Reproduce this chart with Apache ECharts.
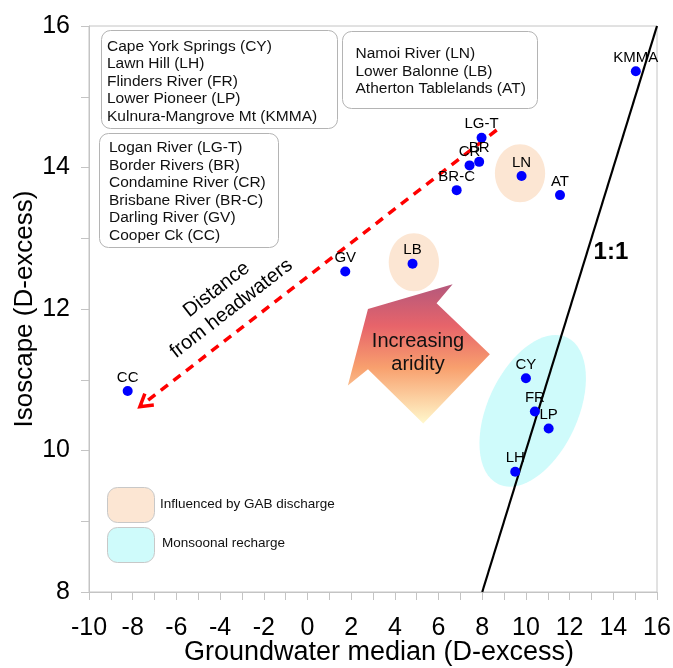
<!DOCTYPE html>
<html><head><meta charset="utf-8">
<script src="https://cdn.jsdelivr.net/npm/echarts@6/dist/echarts.min.js"></script>
<style>html,body{margin:0;padding:0;background:#fff}#chart{width:673px;height:668px}</style>
</head><body><div id="chart"></div>
<script>
// ---- data ----
const siteCodes = ['KMMA','LG-T','BR','CR','BR-C','LN','AT','GV','LB','CC','CY','FR','LP','LH'];
const groundwaterMedian = [15.03, 7.97, 7.86, 7.42, 6.83, 9.80, 11.56, 1.73, 4.81, -8.23, 10.00, 10.41, 11.04, 9.51];
const isoscapeValues   = [15.36, 14.42, 14.08, 14.03, 13.68, 13.88, 13.61, 12.53, 12.64, 10.84, 11.02, 10.55, 10.31, 9.70];
const oneToOneLine = [[8, 8], [16, 16]];
const headwaterTrend = [[8.66, 14.53], [-7.67, 10.62]];
const xRange = [-10, 16];
const yRange = [8, 16];
const groupSpringsText = ['Cape York Springs (CY)','Lawn Hill (LH)','Flinders River (FR)','Lower Pioneer (LP)','Kulnura-Mangrove Mt (KMMA)'];
const groupRiversText = ['Logan River (LG-T)','Border Rivers (BR)','Condamine River (CR)','Brisbane River (BR-C)','Darling River (GV)','Cooper Ck (CC)'];
const groupGabText = ['Namoi River (LN)','Lower Balonne (LB)','Atherton Tablelands (AT)'];
const zoneLegendText = ['Influenced by GAB discharge','Monsoonal recharge'];

// ---- annotation geometry (data coordinates) ----
const gabEllipses = [{c:[9.73,13.92], rx:1.15, ry:0.41}, {c:[4.87,12.66], rx:1.15, ry:0.41}];
const monsoonEllipse = {c:[10.31,10.56], rxPx:45, ryPx:81, rotDeg:-25};
const aridityArrow = [[6.645,12.35],[5.91,12.08],[8.35,11.36],[5.30,10.38],[2.77,11.15],[1.85,10.92],[2.77,12.0]];
const aridityLabelPos = [5.06, 11.38];
const distanceLabelPos = [-3.82, 12.14];
const oneToOneLabelPos = [13.89, 12.80];

const FONT = "'Liberation Sans', Arial, sans-serif";
const AXIS_GRAY = '#c4c4c4';

const chart = echarts.init(document.getElementById('chart'), null, {renderer:'canvas'});
const points = groundwaterMedian.map((x,i)=>[x, isoscapeValues[i], siteCodes[i]]);

chart.setOption({
  animation:false,
  backgroundColor:'#fff',
  grid:{left:89, right:16, top:26, bottom:76, containLabel:false, outerBoundsMode:'none',
        show:true, borderColor:AXIS_GRAY, borderWidth:1},
  xAxis:{
    type:'value', min:xRange[0], max:xRange[1], interval:2,
    name:'Groundwater median (D-excess)', nameLocation:'middle', nameGap:47, nameMoveOverlap:false,
    nameTextStyle:{fontFamily:FONT, fontSize:27, color:'#000', padding:[0,0,0,12]},
    axisLine:{show:true, onZero:false, lineStyle:{color:AXIS_GRAY}},
    axisTick:{show:true, length:8, lineStyle:{color:AXIS_GRAY}},
    minorTick:{show:true, splitNumber:2, length:8, lineStyle:{color:AXIS_GRAY}},
    splitLine:{show:false},
    axisLabel:{fontFamily:FONT, fontSize:25, color:'#000', margin:24}
  },
  yAxis:{
    type:'value', min:yRange[0], max:yRange[1], interval:2,
    name:'Isoscape (D-excess)', nameLocation:'middle', nameGap:51, nameMoveOverlap:false,
    nameTextStyle:{fontFamily:FONT, fontSize:26, color:'#000'},
    axisLine:{show:true, onZero:false, lineStyle:{color:AXIS_GRAY}},
    axisTick:{show:true, length:8, lineStyle:{color:AXIS_GRAY}},
    minorTick:{show:true, splitNumber:2, length:8, lineStyle:{color:AXIS_GRAY}},
    splitLine:{show:false},
    axisLabel:{fontFamily:FONT, fontSize:25, color:'#000', margin:19}
  },
  series:[
    {type:'line', data:oneToOneLine, symbol:'none', z:3,
     lineStyle:{color:'#000', width:2.2}},
    {type:'line', data:headwaterTrend, symbol:'none', z:3,
     lineStyle:{color:'#ff0000', width:3.5, type:[9,7]}},
    {type:'scatter', data:points, symbol:'circle', symbolSize:10, z:5,
     itemStyle:{color:'#0000ff', opacity:1},
     label:{show:true, position:'top', distance:1, fontFamily:FONT, fontSize:15, color:'#000',
            formatter:p=>p.data[2]}}
  ]
});

function px(p){ return chart.convertToPixel({gridIndex:0}, p); }
const graphics = [];
// GAB ellipses
gabEllipses.forEach(e=>{
  const c = px(e.c), r = px([e.c[0]+e.rx, e.c[1]+e.ry]);
  graphics.push({type:'ellipse', z:-1, shape:{cx:c[0], cy:c[1], rx:Math.abs(r[0]-c[0]), ry:Math.abs(r[1]-c[1])},
    style:{fill:'#fce6d3'}});
});
// Monsoon ellipse
{
  const c = px(monsoonEllipse.c);
  graphics.push({type:'ellipse', z:-1, x:c[0], y:c[1], rotation:monsoonEllipse.rotDeg*Math.PI/180,
    shape:{cx:0, cy:0, rx:monsoonEllipse.rxPx, ry:monsoonEllipse.ryPx}, style:{fill:'#cffbfb'}});
}
// Aridity arrow
{
  const pts = aridityArrow.map(px);
  graphics.push({type:'polygon', z:-1, shape:{points:pts},
    style:{fill:{type:'linear', x:0, y:0, x2:0, y2:1, colorStops:[
      {offset:0, color:'#b4587c'}, {offset:0.3, color:'#e7646a'}, {offset:0.6, color:'#f8a06e'}, {offset:1, color:'#fff8cc'}]}}});
  const t = px(aridityLabelPos);
  graphics.push({type:'text', z:1, x:t[0], y:t[1], style:{text:'Increasing\naridity', fontFamily:FONT, fontSize:20,
    lineHeight:23, fill:'#111', align:'center', verticalAlign:'middle'}});
}
// Red arrow head + label
{
  const a = px(headwaterTrend[0]), b = px(headwaterTrend[1]);
  const dx = a[0]-b[0], dy = a[1]-b[1], L = Math.hypot(dx,dy);
  const ux = dx/L, uy = dy/L, len = 14, ang = 0.55;
  const arm = s => [b[0] + len*(ux*Math.cos(s*ang) - uy*Math.sin(s*ang)), b[1] + len*(ux*Math.sin(s*ang) + uy*Math.cos(s*ang))];
  graphics.push({type:'polyline', z:4, shape:{points:[arm(1), b, arm(-1)]},
    style:{stroke:'#ff0000', lineWidth:3.5, fill:null, lineJoin:'miter'}});
  const d = px(distanceLabelPos);
  const rot = Math.atan2(b[1]-a[1], a[0]-b[0]);
  graphics.push({type:'text', z:4, x:d[0], y:d[1], rotation:rot,
    style:{text:'Distance\nfrom headwaters', fontFamily:FONT, fontSize:20, lineHeight:24, fill:'#000', align:'center', verticalAlign:'middle'}});
}
// 1:1 label
{
  const t = px(oneToOneLabelPos);
  graphics.push({type:'text', z:4, x:t[0], y:t[1], style:{text:'1:1', fontFamily:FONT, fontSize:24, fontWeight:'bold',
    fill:'#000', align:'center', verticalAlign:'middle'}});
}
// Site group boxes (layout in pixels)
function box(x,y,w,h,tx,ty,lines){
  graphics.push({type:'rect', z:1, shape:{x:x+0.5, y:y+0.5, width:w, height:h, r:9},
    style:{fill:'#fff', stroke:'#b4b4b4', lineWidth:1}});
  graphics.push({type:'text', z:2, x:tx, y:ty, style:{text:lines.join('\n'), fontFamily:FONT, fontSize:15.5,
    lineHeight:17.5, fill:'#111', align:'left', verticalAlign:'top'}});
}
box(101,30,236,98,107,37.5,groupSpringsText);
box(99,133,179,114,109,139,groupRiversText);
box(342,31,195,77,355.5,45,groupGabText);
// zone legend
graphics.push({type:'rect', z:1, shape:{x:107.5, y:487.5, width:47, height:35, r:10}, style:{fill:'#fce6d3', stroke:'#c8c8c8', lineWidth:1}});
graphics.push({type:'rect', z:1, shape:{x:107.5, y:527.5, width:47, height:35, r:10}, style:{fill:'#cffbfb', stroke:'#c8c8c8', lineWidth:1}});
graphics.push({type:'text', z:2, x:160, y:504, style:{text:zoneLegendText[0], fontFamily:FONT, fontSize:13.5, fill:'#111', verticalAlign:'middle'}});
graphics.push({type:'text', z:2, x:162, y:543, style:{text:zoneLegendText[1], fontFamily:FONT, fontSize:13.5, fill:'#111', verticalAlign:'middle'}});

chart.setOption({graphic:{elements:graphics}});
</script></body></html>
